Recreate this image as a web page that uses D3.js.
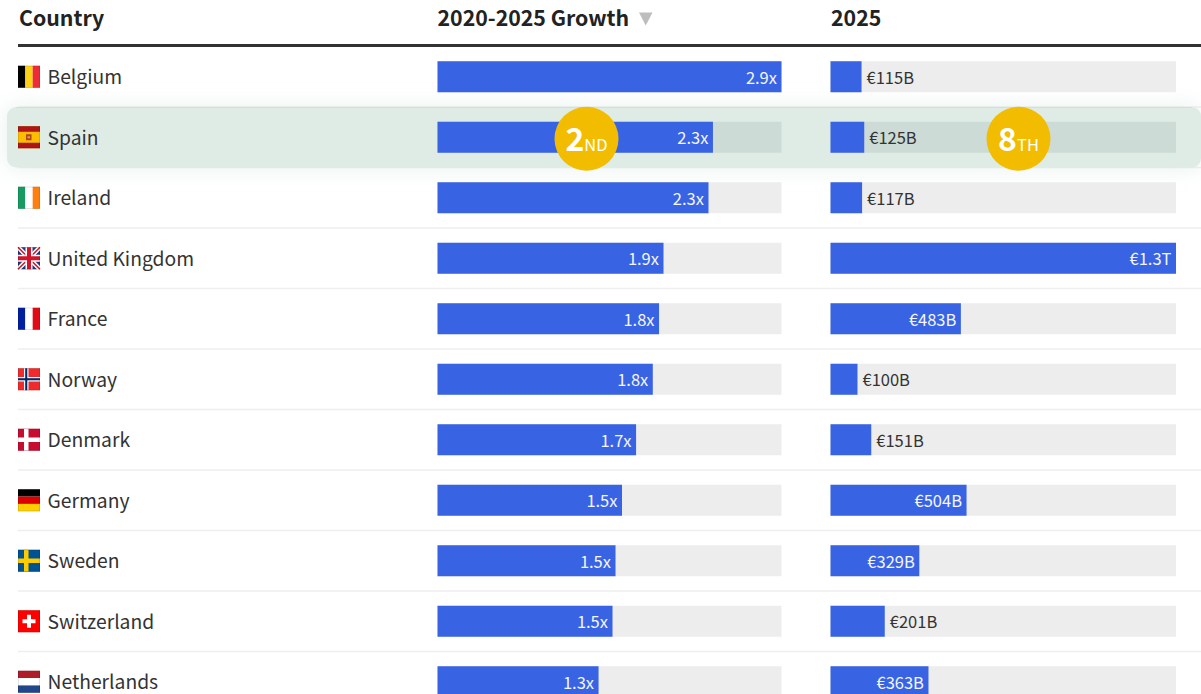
<!DOCTYPE html>
<html>
<head>
<meta charset="utf-8">
<script src="https://cdn.jsdelivr.net/npm/d3@7/dist/d3.min.js"></script>
<style>
  html, body { margin: 0; padding: 0; background: #fff; overflow: hidden; }
  svg { display: block; font-family: "Noto Sans CJK SC", "Noto Sans", sans-serif; }
</style>
</head>
<body>
<svg id="table" width="1201" height="694"></svg>
<script>
const countries = ["Belgium","Spain","Ireland","United Kingdom","France","Norway","Denmark","Germany","Sweden","Switzerland","Netherlands"];
// growth multiple, 2020 to 2025
const growth = [2.86,2.29,2.253,1.879,1.842,1.79,1.651,1.534,1.48,1.455,1.339];
// 2025 value in billions of euros
const value2025 = [115,125,117,1280,483,100,151,504,329,201,363];
const columnTitles = ["Country","2020-2025 Growth","2025"];
const highlighted = "Spain";
const growthRank = {num:"2", suffix:"ND"};
const valueRank = {num:"8", suffix:"TH"};

const BLUE = "#3863e3", TRACK = "#ededed", TRACK_HI = "#ccdbd5", INK = "#333";

const svg = d3.select("#table");
const defs = svg.append("defs");
const glow = defs.append("filter").attr("id","rowGlow")
  .attr("x","-5%").attr("y","-80%").attr("width","110%").attr("height","260%");
glow.append("feGaussianBlur").attr("stdDeviation",11);

const y = d3.scaleBand().domain(countries).range([46.5, 46.5 + 60.5 * countries.length]);
const xGrowth = d3.scaleLinear().domain([0, d3.max(growth)]).range([437.5, 781.5]);
const xValue = d3.scaleLinear().domain([0, d3.max(value2025)]).range([830.5, 1176]);
const fmtGrowth = v => d3.format(".1f")(v) + "x";
const fmtValue = v => v >= 1000 ? "€" + d3.format(".1f")(v / 1000) + "T" : "€" + v + "B";

// Column headers and heavy rule
const head = svg.append("g");
head.selectAll("text").data(columnTitles).join("text")
  .attr("x", (d,i) => [19, 437.5, 831][i]).attr("y", 26)
  .attr("font-size", 21.3).attr("font-weight", 700).attr("fill", "#222").text(d => d);
head.append("path").attr("d", "M639 12.5h13.5l-6.75 13z").attr("fill", "#bdbdbd");
head.append("rect").attr("x", 18).attr("y", 44).attr("width", 1183).attr("height", 3).attr("fill", "#333");

// Row separators
svg.append("g").selectAll("rect").data(countries.slice(0, -1)).join("rect")
  .attr("x", 18).attr("width", 1183).attr("height", 1.5)
  .attr("y", d => y(d) + y.bandwidth() - 0.75).attr("fill", "#eeeeee");

// Highlighted row band with its soft halo
const hiY = y(highlighted);
svg.append("rect").attr("x", 7).attr("y", hiY).attr("width", 1194).attr("height", y.bandwidth())
  .attr("rx", 9).attr("fill", "#cfe3da").attr("opacity", .5).attr("filter", "url(#rowGlow)");
svg.append("rect").attr("x", 7).attr("y", hiY).attr("width", 1194).attr("height", y.bandwidth())
  .attr("rx", 9).attr("fill", "#dfece6");
svg.append("rect").attr("x", 16).attr("y", hiY).attr("width", 1176).attr("height", 1).attr("fill", "#d3e0da");

// Flags: drawn in a 22x22 box
const flagSpecs = {
  "Belgium": {dir:"v", colors:["#000","#fdd116","#ef2b37"]},
  "Spain": {spain:["#ad1519","#fabd00"]},
  "Ireland": {dir:"v", colors:["#169b62","#fff","#ff7f0e"]},
  "United Kingdom": {union:true},
  "France": {dir:"v", colors:["#00209f","#fff","#e30a17"]},
  "Norway": {cross:["#ef2b2d","#fff","#002868"]},
  "Denmark": {cross:["#c60c30","#fff",null]},
  "Germany": {dir:"h", colors:["#000","#dd0000","#ffce00"]},
  "Sweden": {cross:["#005293","#fecb00",null]},
  "Switzerland": {swiss:true},
  "Netherlands": {dir:"h", colors:["#ae1c28","#fff","#21468b"]}
};

function drawFlag(g, spec) {
  const S = 22;
  const r = (x, yy, w, h, c) => g.append("rect").attr("x", x).attr("y", yy).attr("width", w).attr("height", h).attr("fill", c);
  if (spec.dir === "v") {
    spec.colors.forEach((c, i) => r(i * S / 3, 0, S / 3, S, c));
  } else if (spec.spain) {
    r(0, 0, S, S, spec.spain[1]);
    r(0, 0, S, S / 4, spec.spain[0]);
    r(0, S * 3 / 4, S, S / 4, spec.spain[0]);
    r(8, 8, 5.5, 6, "#b0452a");
    r(9.5, 10, 2.5, 2, "#e0a030");
  } else if (spec.dir === "h") {
    spec.colors.forEach((c, i) => r(0, i * S / 3, S, S / 3, c));
  } else if (spec.cross) {
    const [bg, fg, inner] = spec.cross;
    r(0, 0, S, S, bg);
    r(6, 0, 4.5, S, fg);
    r(0, 8.75, S, 4.5, fg);
    if (inner) { r(7.2, 0, 2.1, S, inner); r(0, 9.95, S, 2.1, inner); }
  } else if (spec.swiss) {
    r(0, 0, S, S, "#ff0000");
    r(9, 4.5, 4, 13, "#fff");
    r(4.5, 9, 13, 4, "#fff");
  } else if (spec.union) {
    r(0, 0, S, S, "#1f3a7d");
    g.append("path").attr("d", `M0 0L${S} ${S}M${S} 0L0 ${S}`).attr("stroke", "#fff").attr("stroke-width", 4.5);
    g.append("path").attr("d", `M0 0L${S} ${S}M${S} 0L0 ${S}`).attr("stroke", "#cf142b").attr("stroke-width", 1.5);
    r(7.5, 0, 7, S, "#fff");
    r(0, 7.5, S, 7, "#fff");
    r(9, 0, 4, S, "#cf142b");
    r(0, 9, S, 4, "#cf142b");
  }
  g.append("rect").attr("x", .25).attr("y", .25).attr("width", S - .5).attr("height", S - .5)
    .attr("fill", "none").attr("stroke", "#000").attr("stroke-opacity", .22).attr("stroke-width", .5);
}

// Table rows
const rows = svg.append("g").selectAll("g").data(countries).join("g")
  .attr("transform", d => `translate(0,${y(d)})`);

rows.append("g").attr("transform", `translate(18,${y.bandwidth() / 2 - 11})`)
  .each(function (d) { drawFlag(d3.select(this), flagSpecs[d]); });

rows.append("text").attr("x", 47.5).attr("y", y.bandwidth() / 2 + 7.5)
  .attr("font-size", 19.3).attr("fill", INK).text(d => d);

const barTop = y.bandwidth() / 2 - 15.5;
const trackFill = d => d === highlighted ? TRACK_HI : TRACK;

// Growth column
rows.append("rect").attr("x", xGrowth(0)).attr("y", barTop).attr("height", 31)
  .attr("width", xGrowth.range()[1] - xGrowth(0)).attr("fill", trackFill);
rows.append("rect").attr("x", xGrowth(0)).attr("y", barTop).attr("height", 31)
  .attr("width", (d,i) => xGrowth(growth[i]) - xGrowth(0)).attr("fill", BLUE);
rows.append("text").attr("x", (d,i) => xGrowth(growth[i]) - 4.5).attr("y", barTop + 22.5)
  .attr("text-anchor", "end").attr("font-size", 16.5).attr("fill", "#f4f6fd")
  .text((d,i) => fmtGrowth(growth[i]));

// 2025 column: the label moves outside the bar when the bar is short
const insideMin = 300;
rows.append("rect").attr("x", xValue(0)).attr("y", barTop).attr("height", 31)
  .attr("width", xValue.range()[1] - xValue(0)).attr("fill", trackFill);
rows.append("rect").attr("x", xValue(0)).attr("y", barTop).attr("height", 31)
  .attr("width", (d,i) => xValue(value2025[i]) - xValue(0)).attr("fill", BLUE);
rows.append("text")
  .attr("x", (d,i) => value2025[i] > insideMin ? xValue(value2025[i]) - 4.5 : xValue(value2025[i]) + 5)
  .attr("y", barTop + 22.5)
  .attr("text-anchor", (d,i) => value2025[i] > insideMin ? "end" : "start")
  .attr("font-size", 16.5)
  .attr("fill", (d,i) => value2025[i] > insideMin ? "#f4f6fd" : INK)
  .text((d,i) => fmtValue(value2025[i]));

// Rank badges on the highlighted row
const badges = [
  {cx: xGrowth(d3.max(growth)) - 195, rank: growthRank},
  {cx: xValue(d3.max(value2025)) - 157.5, rank: valueRank}
];
const badge = svg.append("g").selectAll("g").data(badges).join("g")
  .attr("transform", d => `translate(${d.cx},${hiY + y.bandwidth() / 2 + 1.5})`);
badge.append("circle").attr("r", 32).attr("fill", "#f2bd00");
const label = badge.append("text").attr("text-anchor", "middle").attr("y", 12).attr("fill", "#fff");
label.append("tspan").attr("font-size", 32).attr("font-weight", 700).text(d => d.rank.num);
label.append("tspan").attr("font-size", 16.5).text(d => d.rank.suffix);
</script>
</body>
</html>
